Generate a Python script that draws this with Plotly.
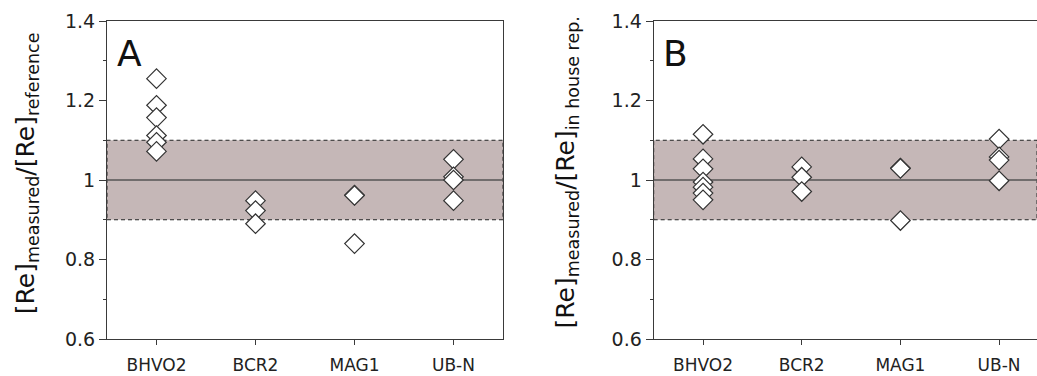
import plotly.graph_objects as go

categories = ["BHVO2", "BCR2", "MAG1", "UB-N"]

# Panel A: [Re]measured / [Re]reference
a_bhvo2 = [1.255, 1.188, 1.157, 1.112, 1.095, 1.072]
a_bcr2 = [0.948, 0.923, 0.890]
a_mag1 = [0.962, 0.961, 0.840]
a_ubn = [1.052, 1.008, 1.000, 0.948]

# Panel B: [Re]measured / [Re]in house rep.
b_bhvo2 = [1.115, 1.053, 1.028, 0.995, 0.982, 0.967, 0.950]
b_bcr2 = [1.033, 1.007, 0.971]
b_mag1 = [1.030, 1.029, 0.898]
b_ubn = [1.103, 1.058, 1.050, 0.998]

y_ticks = [0.6, 0.8, 1.0, 1.2, 1.4]
y_ticktext = ["0.6", "0.8", "1", "1.2", "1.4"]

FONT = "DejaVu Sans"
DARK = "#3a3a3a"
BAND = "#c5b7b7"

fig = go.Figure()

def add_panel(series, xa, ya):
    xs, ys = [], []
    for cat, vals in zip(categories, series):
        xs += [cat] * len(vals)
        ys += vals
    fig.add_trace(go.Scatter(
        x=xs, y=ys, mode="markers", xaxis=xa, yaxis=ya,
        marker=dict(symbol="diamond", size=15, color="white",
                    line=dict(color="#333333", width=1.2)),
        showlegend=False, hoverinfo="skip"))

add_panel([a_bhvo2, a_bcr2, a_mag1, a_ubn], "x", "y")
add_panel([b_bhvo2, b_bcr2, b_mag1, b_ubn], "x2", "y2")

for xr, yr in [("x domain", "y"), ("x2 domain", "y2")]:
    fig.add_shape(type="rect", xref=xr, yref=yr, x0=0, x1=1, y0=0.9, y1=1.1,
                  fillcolor=BAND, line=dict(color="#222222", width=1, dash="4px,3px"),
                  layer="below")
    fig.add_shape(type="line", xref=xr, yref=yr, x0=0, x1=1, y0=1.0, y1=1.0,
                  line=dict(color="#555555", width=1.5), layer="below")

xcommon = dict(type="category", categoryorder="array", categoryarray=categories,
               showline=True, linecolor=DARK, linewidth=1.2,
               ticks="outside", ticklen=5, tickcolor=DARK, tickwidth=1.2,
               ticklabelstandoff=5, automargin=False,
               tickfont=dict(family=FONT, size=17, color="#222222"),
               showgrid=False, zeroline=False)
ycommon = dict(range=[0.6, 1.4], tickvals=y_ticks, ticktext=y_ticktext,
               showline=True, linecolor=DARK, linewidth=1.2,
               ticks="outside", ticklen=7, tickcolor=DARK, tickwidth=1.2,
               minor=dict(dtick=0.1, tick0=0.6, ticks="outside", ticklen=3,
                          tickcolor=DARK, tickwidth=1),
               automargin=False,
               tickfont=dict(family=FONT, size=19, color="#222222"),
               showgrid=False, zeroline=False)

fig.update_layout(
    width=1037, height=376,
    margin=dict(l=0, r=0, t=21, b=37),
    paper_bgcolor="white", plot_bgcolor="white",
    xaxis=dict(domain=[107 / 1037, 503 / 1037], range=[-0.5, 3.5], mirror=True, **xcommon),
    yaxis=dict(anchor="x", mirror=True, **ycommon),
    xaxis2=dict(domain=[653.7 / 1037, 1.0], range=[-0.5, 3.384], mirror=True,
                anchor="y2", **xcommon),
    yaxis2=dict(anchor="x2", mirror=False, **ycommon),
    annotations=[
        dict(text="A", xref="paper", yref="paper", x=115 / 1037, y=1 - 38 / 376,
             xanchor="left", yanchor="middle", showarrow=False,
             font=dict(family=FONT, size=36, color="#111111")),
        dict(text="B", xref="paper", yref="paper", x=661 / 1037, y=1 - 38 / 376,
             xanchor="left", yanchor="middle", showarrow=False,
             font=dict(family=FONT, size=36, color="#111111")),
        dict(text="[Re]<sub>measured</sub>/[Re]<sub>reference</sub>",
             xref="paper", yref="paper", x=27 / 1037, y=1 - 180 / 376,
             xanchor="center", yanchor="middle", textangle=-90, showarrow=False,
             font=dict(family=FONT, size=25, color="#111111")),
        dict(text="[Re]<sub>measured</sub>/[Re]<sub>in house rep.</sub>",
             xref="paper", yref="paper", x=567 / 1037, y=1 - 179 / 376,
             xanchor="center", yanchor="middle", textangle=-90, showarrow=False,
             font=dict(family=FONT, size=25, color="#111111")),
    ],
)

fig.write_html("out.html")
